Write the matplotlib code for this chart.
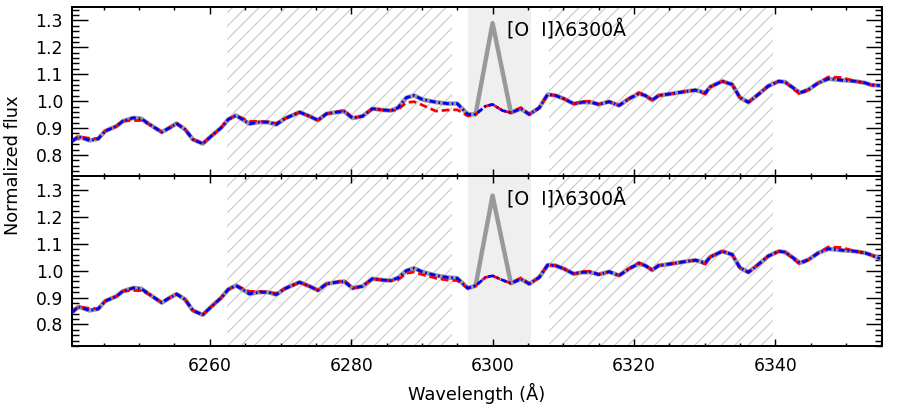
import matplotlib
matplotlib.use("Agg")
import matplotlib.pyplot as plt
from matplotlib.ticker import MultipleLocator, FormatStrFormatter

plt.rcParams['font.family'] = ['DejaVu Sans']
plt.rcParams['hatch.linewidth'] = 1.0

# wavelength grid (Angstrom)
wl = [6240.5, 6241.4, 6243.0, 6244.2, 6245.2, 6246.8, 6247.7, 6249.2, 6250.3, 6251.5,
      6253.2, 6254.3, 6255.3, 6256.5, 6257.6, 6259.0, 6260.2, 6261.6, 6262.6, 6263.7,
      6265.6, 6267.0, 6268.2, 6269.4, 6270.6, 6272.7, 6274.1, 6275.3, 6276.5, 6277.9,
      6279.0, 6280.2, 6281.6, 6283.0, 6284.5, 6285.6, 6286.6, 6287.8, 6288.9, 6290.1,
      6292.0, 6293.6, 6295.0, 6296.5, 6297.6, 6299.0, 6300.0, 6301.4, 6302.6, 6304.0,
      6305.2, 6306.6, 6307.8, 6308.9, 6310.1, 6311.5, 6312.7, 6313.9, 6315.0, 6316.5,
      6317.9, 6319.3, 6320.7, 6321.6, 6322.6, 6323.5, 6325.4, 6327.3, 6328.7, 6330.1,
      6330.8, 6332.5, 6333.9, 6335.0, 6336.2, 6337.6, 6339.0, 6340.5, 6341.4, 6343.5,
      6344.7, 6346.1, 6347.5, 6349.4, 6351.3, 6352.7, 6353.6, 6354.8]

# top panel
obs_top = [0.851, 0.868, 0.854, 0.860, 0.889, 0.907, 0.926, 0.938, 0.935, 0.913,
           0.885, 0.901, 0.917, 0.895, 0.858, 0.842, 0.870, 0.901, 0.932, 0.947,
           0.916, 0.922, 0.922, 0.913, 0.935, 0.959, 0.944, 0.929, 0.953, 0.959,
           0.962, 0.937, 0.944, 0.972, 0.967, 0.965, 0.975, 1.013, 1.021, 1.006,
           0.996, 0.991, 0.991, 0.951, 0.951, 1.149, 1.290, 1.111, 0.957, 0.972,
           0.951, 0.975, 1.025, 1.021, 1.009, 0.990, 0.996, 0.996, 0.988, 0.998,
           0.984, 1.009, 1.028, 1.021, 1.004, 1.021, 1.028, 1.036, 1.041, 1.031,
           1.053, 1.074, 1.062, 1.013, 0.996, 1.025, 1.056, 1.074, 1.071, 1.031,
           1.043, 1.068, 1.083, 1.078, 1.074, 1.068, 1.060, 1.058]
red_top = [0.851, 0.868, 0.862, 0.860, 0.889, 0.907, 0.926, 0.928, 0.928, 0.913,
           0.885, 0.901, 0.917, 0.895, 0.858, 0.842, 0.870, 0.901, 0.932, 0.947,
           0.925, 0.925, 0.922, 0.918, 0.935, 0.959, 0.944, 0.929, 0.953, 0.959,
           0.966, 0.937, 0.944, 0.972, 0.967, 0.965, 0.968, 0.995, 0.998, 0.985,
           0.963, 0.967, 0.968, 0.945, 0.951, 0.981, 0.988, 0.965, 0.957, 0.976,
           0.951, 0.975, 1.025, 1.021, 1.009, 0.990, 0.999, 1.000, 0.988, 0.998,
           0.984, 1.009, 1.032, 1.021, 1.004, 1.021, 1.028, 1.036, 1.041, 1.026,
           1.053, 1.074, 1.062, 1.013, 0.996, 1.025, 1.056, 1.074, 1.071, 1.025,
           1.043, 1.068, 1.090, 1.088, 1.074, 1.068, 1.060, 1.058]
blue_top = [0.851, 0.868, 0.854, 0.860, 0.889, 0.907, 0.926, 0.938, 0.935, 0.913,
            0.885, 0.901, 0.917, 0.895, 0.858, 0.842, 0.870, 0.901, 0.932, 0.947,
            0.916, 0.922, 0.922, 0.913, 0.935, 0.959, 0.944, 0.929, 0.953, 0.959,
            0.962, 0.937, 0.944, 0.972, 0.967, 0.965, 0.975, 1.013, 1.021, 1.006,
            0.996, 0.991, 0.991, 0.951, 0.951, 0.981, 0.988, 0.965, 0.957, 0.972,
            0.951, 0.975, 1.025, 1.021, 1.009, 0.990, 0.996, 0.996, 0.988, 0.998,
            0.984, 1.009, 1.028, 1.021, 1.004, 1.021, 1.028, 1.036, 1.041, 1.031,
            1.053, 1.074, 1.062, 1.013, 0.996, 1.025, 1.056, 1.074, 1.071, 1.031,
            1.043, 1.068, 1.083, 1.078, 1.074, 1.068, 1.060, 1.058]

# bottom panel
obs_bot = [0.845, 0.866, 0.852, 0.858, 0.887, 0.905, 0.924, 0.936, 0.933, 0.911,
           0.881, 0.899, 0.913, 0.893, 0.852, 0.836, 0.866, 0.899, 0.930, 0.945,
           0.914, 0.920, 0.920, 0.911, 0.933, 0.957, 0.942, 0.927, 0.951, 0.957,
           0.960, 0.935, 0.942, 0.970, 0.965, 0.963, 0.973, 1.000, 1.009, 0.995,
           0.982, 0.975, 0.972, 0.935, 0.944, 1.139, 1.279, 1.103, 0.953, 0.969,
           0.951, 0.975, 1.021, 1.019, 1.007, 0.988, 0.994, 0.994, 0.986, 0.996,
           0.982, 1.007, 1.026, 1.019, 1.002, 1.019, 1.026, 1.034, 1.039, 1.029,
           1.051, 1.072, 1.060, 1.011, 0.994, 1.023, 1.054, 1.072, 1.069, 1.029,
           1.041, 1.066, 1.081, 1.076, 1.072, 1.066, 1.058, 1.045]
red_bot = [0.845, 0.866, 0.860, 0.858, 0.887, 0.905, 0.924, 0.926, 0.926, 0.911,
           0.881, 0.899, 0.913, 0.893, 0.852, 0.836, 0.866, 0.899, 0.930, 0.945,
           0.923, 0.923, 0.920, 0.916, 0.933, 0.957, 0.942, 0.927, 0.951, 0.957,
           0.964, 0.935, 0.942, 0.970, 0.965, 0.963, 0.966, 0.990, 0.995, 0.985,
           0.972, 0.965, 0.963, 0.935, 0.944, 0.975, 0.981, 0.965, 0.953, 0.973,
           0.951, 0.975, 1.021, 1.019, 1.007, 0.988, 0.997, 0.998, 0.986, 0.996,
           0.982, 1.007, 1.030, 1.019, 1.002, 1.019, 1.026, 1.034, 1.039, 1.024,
           1.051, 1.072, 1.060, 1.011, 0.994, 1.023, 1.054, 1.072, 1.069, 1.023,
           1.041, 1.066, 1.088, 1.086, 1.072, 1.066, 1.058, 1.045]
blue_bot = [0.845, 0.866, 0.852, 0.858, 0.887, 0.905, 0.924, 0.936, 0.933, 0.911,
            0.881, 0.899, 0.913, 0.893, 0.852, 0.836, 0.866, 0.899, 0.930, 0.945,
            0.914, 0.920, 0.920, 0.911, 0.933, 0.957, 0.942, 0.927, 0.951, 0.957,
            0.960, 0.935, 0.942, 0.970, 0.965, 0.963, 0.973, 1.000, 1.009, 0.995,
            0.982, 0.975, 0.972, 0.935, 0.944, 0.975, 0.981, 0.965, 0.953, 0.969,
            0.951, 0.975, 1.021, 1.019, 1.007, 0.988, 0.994, 0.994, 0.986, 0.996,
            0.982, 1.007, 1.026, 1.019, 1.002, 1.019, 1.026, 1.034, 1.039, 1.029,
            1.051, 1.072, 1.060, 1.011, 0.994, 1.023, 1.054, 1.072, 1.069, 1.029,
            1.041, 1.066, 1.081, 1.076, 1.072, 1.066, 1.058, 1.045]

oi_band = (6296.5, 6305.5)
hatch_ranges = [(6262.5, 6294.3), (6308.0, 6339.7)]
line_label = '[O  I]λ6300Å'

DPI = 80
fig = plt.figure(figsize=(900 / DPI, 409 / DPI), dpi=DPI)
ax_top = fig.add_axes([0.08, 0.5685, 0.90, 0.4144])
ax_bot = fig.add_axes([0.08, 0.154, 0.90, 0.4145])


def draw_panel(ax, obs, red, blue):
    ax.axvspan(*oi_band, color='#efefef', lw=0, zorder=0)
    for lo, hi in hatch_ranges:
        ax.axvspan(lo, hi, facecolor='none', edgecolor='#c8c8c8', hatch='//',
                   lw=0, zorder=0.5)
    ax.plot(wl, obs, color='#999999', lw=4, zorder=2)
    ax.plot(wl, red, color='red', lw=2.5, ls=(0, (2.8, 1.4)), zorder=3)
    ax.plot(wl, blue, color='blue', lw=2.5, ls=(0, (2.2, 1.0, 0.6, 1.0)), zorder=4)
    ax.text(6302.1, 1.265, line_label, fontsize=17, va='center', zorder=5)

    ax.set_xlim(6240.5, 6355.1)
    ax.set_ylim(0.72, 1.35)
    ax.xaxis.set_major_locator(MultipleLocator(20))
    ax.xaxis.set_minor_locator(MultipleLocator(5))
    ax.yaxis.set_major_locator(MultipleLocator(0.1))
    ax.yaxis.set_minor_locator(MultipleLocator(0.02))
    ax.yaxis.set_major_formatter(FormatStrFormatter('%.1f'))
    ax.tick_params(which='both', direction='in', top=True, right=True,
                   width=1.3, labelsize=15.5)
    ax.tick_params(axis='y', which='major', length=14, pad=8)
    ax.tick_params(axis='y', which='minor', length=6.5)
    ax.tick_params(axis='x', which='major', length=6, pad=10)
    ax.tick_params(axis='x', which='minor', length=3)
    for s in ax.spines.values():
        s.set_linewidth(1.8)


draw_panel(ax_top, obs_top, red_top, blue_top)
draw_panel(ax_bot, obs_bot, red_bot, blue_bot)
ax_top.tick_params(labelbottom=False)

fig.text(0.014, 0.597, 'Normalized flux', rotation=90, va='center', ha='center',
         fontsize=16)
fig.text(0.53, 0.039, 'Wavelength (Å)', va='center', ha='center', fontsize=16)

fig.savefig('out.png', dpi=DPI)
